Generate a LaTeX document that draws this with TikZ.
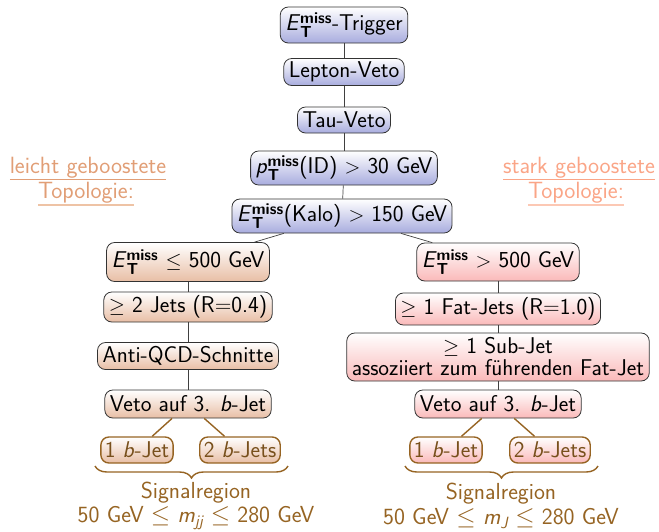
\documentclass[tikz,border=0pt]{standalone}
\usepackage{fontspec}
\usepackage{amsmath}
\usetikzlibrary{decorations.pathreplacing,calc}
\definecolor{bluebot}{RGB}{168,172,222}
\definecolor{tanbot}{RGB}{232,190,165}
\definecolor{pinkbot}{RGB}{250,185,185}
\definecolor{brownc}{RGB}{150,100,35}
\definecolor{leftlab}{RGB}{225,158,118}
\definecolor{leftlab2}{RGB}{238,195,165}
\definecolor{rightlab}{RGB}{250,165,135}
\definecolor{rightlab2}{RGB}{252,200,180}
\newcommand{\EmT}{\textit{E}$^{\text{\bfseries miss}}_{\text{\bfseries T}}$}
\newcommand{\pmT}{\textit{p}$^{\text{\bfseries miss}}_{\text{\bfseries T}}$}
\begin{document}
\begin{tikzpicture}[x=1pt,y=-1pt,
  font=\sffamily\fontsize{22.8}{26}\selectfont,
  box/.style={draw=black!80, rounded corners=8pt, line width=0.8pt, inner xsep=5pt, inner ysep=2pt, minimum height=27pt, align=center},
  bluebox/.style={box, top color=white, bottom color=bluebot},
  tanbox/.style={box, top color=white, bottom color=tanbot},
  pinkbox/.style={box, top color=white, bottom color=pinkbot},
  bjl/.style={box, draw=brownc, line width=1.4pt, text=brownc!80!black, minimum height=26pt, inner xsep=4pt, top color=white, bottom color=tanbot},
  bjr/.style={box, draw=brownc, line width=1.4pt, text=brownc!80!black, minimum height=26pt, inner xsep=4pt, top color=white, bottom color=pinkbot},
  conn/.style={draw=black!75, line width=0.7pt},
  connb/.style={draw=brownc, line width=1.4pt},
  brc/.style={draw=brownc, line width=1.4pt, decorate, decoration={brace, mirror, amplitude=12pt}},
  sig/.style={text=brownc, align=center, inner sep=1pt, font=\sffamily\fontsize{23.2}{24.5}\selectfont},
  side/.style={anchor=base, inner sep=0pt, outer sep=0pt, font=\sffamily\fontsize{23.5}{26}\selectfont}
]
\useasboundingbox (0,0) rectangle (659,531);
% central column
\node[bluebox, minimum height=36pt] (trig) at (344,25) {\EmT-Trigger};
\node[bluebox] (lep) at (344,72) {Lepton-Veto};
\node[bluebox, minimum height=26pt] (tau) at (344,120) {Tau-Veto};
\node[bluebox, minimum height=34pt] (pid) at (344,168) {\pmT(ID) $>$ 30 GeV};
\node[bluebox, minimum height=34pt] (kalo) at (342,216) {\EmT(Kalo) $>$ 150 GeV};
% left column
\node[tanbox, minimum height=39pt] (l1) at (188,262) {\EmT{} $\leq$ 500 GeV};
\node[tanbox, minimum height=30pt] (l2) at (188,307) {$\geq$ 2 Jets (R=0.4)};
\node[tanbox] (l3) at (188,356) {Anti-QCD-Schnitte};
\node[tanbox, minimum height=28pt] (l4) at (188,404) {Veto auf 3. \textit{b}-Jet};
% right column
\node[pinkbox, minimum height=38pt] (r1) at (498,262) {\EmT{} $>$ 500 GeV};
\node[pinkbox, minimum height=32pt] (r2) at (498,309) {$\geq$ 1 Fat-Jets (R=1.0)};
\node[pinkbox, minimum height=48pt, inner ysep=1pt, font=\sffamily\fontsize{22.8}{22}\selectfont] (r3) at (498,357) {$\geq$ 1 Sub-Jet\\assoziiert zum führenden Fat-Jet};
\node[pinkbox, minimum height=28pt] (r4) at (498,404) {Veto auf 3. \textit{b}-Jet};
% b-jet nodes
\node[bjl] (lb1) at (137,450) {1 \textit{b}-Jet};
\node[bjl] (lb2) at (240,450) {2 \textit{b}-Jets};
\node[bjr] (rb1) at (446,450) {1 \textit{b}-Jet};
\node[bjr] (rb2) at (550,450) {2 \textit{b}-Jets};
% connectors
\draw[conn] (trig) -- (lep);
\draw[conn] (lep) -- (tau);
\draw[conn] (tau) -- (pid);
\draw[conn] (pid) -- (kalo);
\draw[conn] (kalo) -- (l1);
\draw[conn] (kalo) -- (r1);
\draw[conn] (l1) -- (l2);
\draw[conn] (l2) -- (l3);
\draw[conn] (l3) -- (l4);
\draw[conn] (r1) -- (r2);
\draw[conn] (r2) -- (r3);
\draw[conn] (r3) -- (r4);
\draw[connb] (l4) -- (lb1);
\draw[connb] (l4) -- (lb2);
\draw[connb] (r4) -- (rb1);
\draw[connb] (r4) -- (rb2);
% braces
\coordinate (bl1) at (95,466);
\coordinate (bl2) at (288,466);
\coordinate (br1) at (405,466);
\coordinate (br2) at (598,466);
\draw[brc] (bl1) -- (bl2);
\draw[brc] (br1) -- (br2);
\node[sig] (sigl) at (196,506) {Signalregion\\50 GeV $\leq$ \textit{m}$_{\text{\itshape jj}}$ $\leq$ 280 GeV};
\node[sig] (sigr) at (501,506) {Signalregion\\50 GeV $\leq$ \textit{m}$_{\text{\itshape J}}$ $\leq$ 280 GeV};
% side labels
\node[side, text=leftlab] (ll1) at (88,173) {leicht geboostete};
\node[side, text=leftlab] (ll2) at (86,198) {Topologie:};
\draw[leftlab, line width=1pt] ($(ll1.south west)+(0,2)$) -- ($(ll1.south east)+(0,2)$);
\draw[leftlab2, line width=1.4pt] ($(ll2.south west)+(0,2)$) -- ($(ll2.south east)+(0,2)$);
\node[side, text=rightlab] (rl1) at (579,173) {stark geboostete};
\node[side, text=rightlab] (rl2) at (576,198) {Topologie:};
\draw[rightlab, line width=1pt] ($(rl1.south west)+(0,2)$) -- ($(rl1.south east)+(0,2)$);
\draw[rightlab2, line width=1.4pt] ($(rl2.south west)+(0,2)$) -- ($(rl2.south east)+(0,2)$);
\end{tikzpicture}
\end{document}
